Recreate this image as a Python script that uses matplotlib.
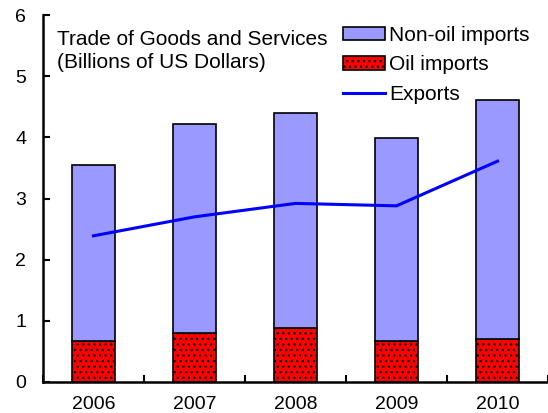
import matplotlib
matplotlib.use("Agg")
import matplotlib.pyplot as plt
import numpy as np

plt.rcParams['font.family'] = ['Liberation Sans', 'DejaVu Sans']
plt.rcParams['hatch.linewidth'] = 0.9

years = ["2006", "2007", "2008", "2009", "2010"]
oil_imports = [0.67, 0.80, 0.88, 0.67, 0.70]
total_imports = [3.55, 4.22, 4.40, 3.99, 4.61]
non_oil_imports = [t - o for t, o in zip(total_imports, oil_imports)]
exports = [2.39, 2.70, 2.92, 2.88, 3.61]

fig = plt.figure(figsize=(5.48, 4.13), dpi=100)
ax = fig.add_axes([43 / 548, 31 / 413, 505 / 548, 367 / 413])

x = np.arange(len(years))
w = 0.42
oil = ax.bar(x, oil_imports, w, color="#FF0000", edgecolor="black", hatch="...",
             linewidth=1.2, label="Oil imports", zorder=2)
non_oil = ax.bar(x, non_oil_imports, w, bottom=oil_imports, color="#9999FF",
                 edgecolor="black", linewidth=1.2, label="Non-oil imports", zorder=2)
exp_line, = ax.plot(x, exports, color="#0000FF", linewidth=2.2, label="Exports", zorder=3)

ax.set_xlim(-0.5, 4.5)
ax.set_ylim(0, 6)
ax.set_yticks(range(0, 7))
ax.set_xticks(x)
ax.set_xticklabels(years)
ax.set_xticks(np.arange(-0.5, 4.6, 1.0), minor=True)
ax.tick_params(axis="x", which="major", length=0, pad=10, labelsize=14)
ax.tick_params(axis="x", which="minor", direction="in", length=5, width=1.5)
ax.tick_params(axis="y", direction="in", length=5, width=1.5, labelsize=14, pad=16)
for lab in ax.get_yticklabels():
    lab.set_horizontalalignment("center")

for s in ("top", "right"):
    ax.spines[s].set_visible(False)
for s in ("left", "bottom"):
    ax.spines[s].set_linewidth(1.8)

ax.text(57 / 548, 1 - 30 / 413, "Trade of Goods and Services\n(Billions of US Dollars)",
        transform=fig.transFigure, fontsize=15, va="top", ha="left",
        linespacing=1.25)

ax.legend([non_oil, oil, exp_line], ["Non-oil imports", "Oil imports", "Exports"],
          loc="upper left", bbox_to_anchor=(343 / 548, 1 - 26 / 413),
          bbox_transform=fig.transFigure, frameon=False, borderaxespad=0,
          borderpad=0, fontsize=15, handlelength=2.0, handleheight=0.6,
          handletextpad=0.2, labelspacing=0.5)

fig.savefig("out.png", dpi=100)
